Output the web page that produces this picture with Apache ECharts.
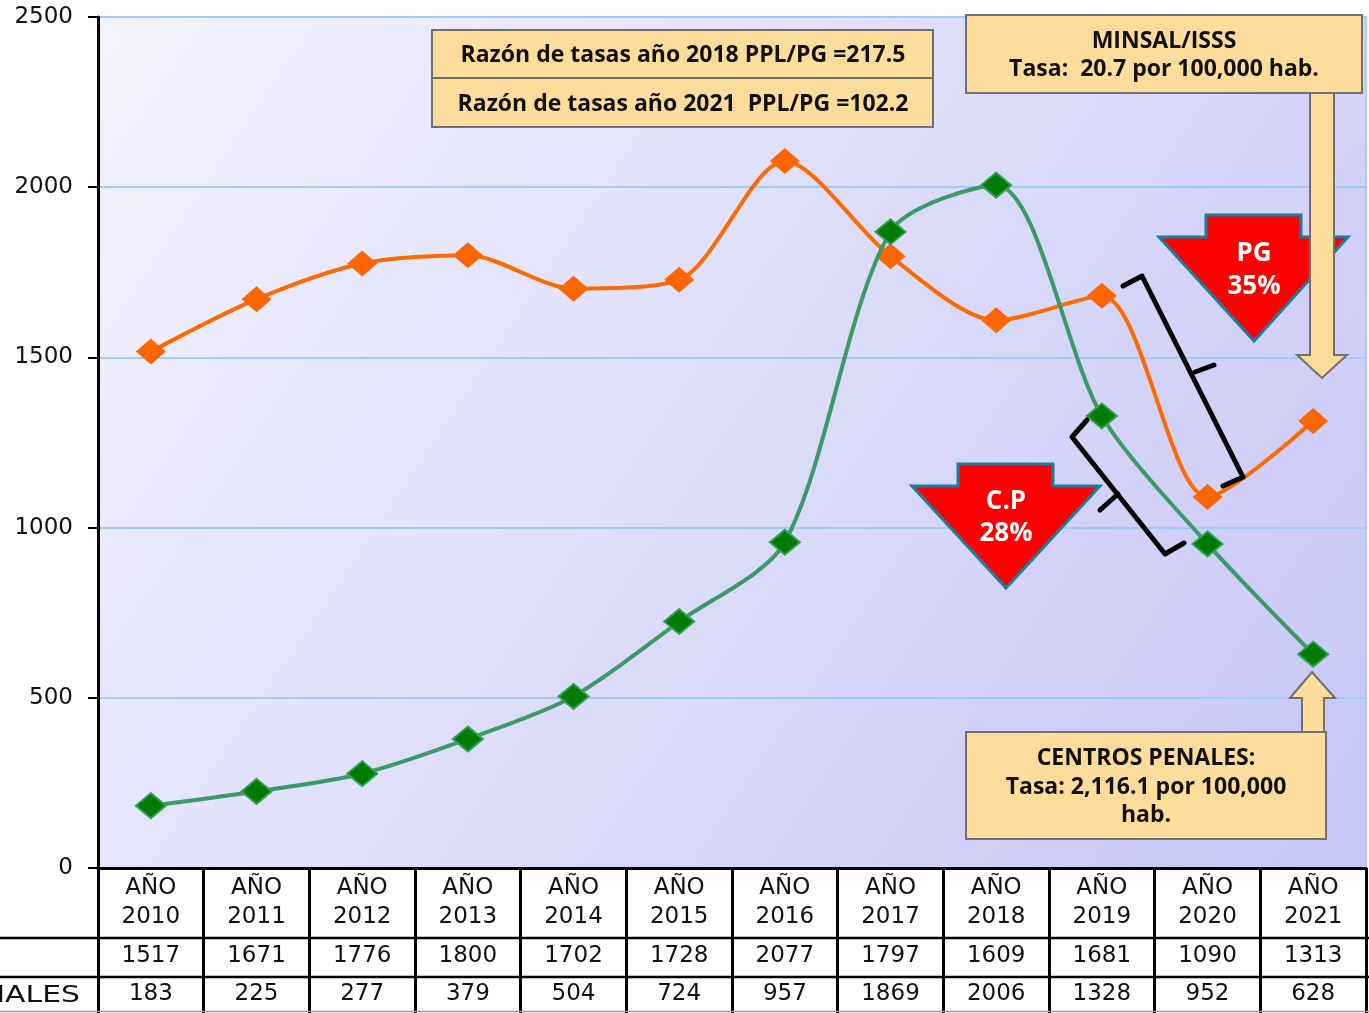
<!DOCTYPE html>
<html><head><meta charset="utf-8">
<script src="https://cdn.jsdelivr.net/npm/echarts@6/dist/echarts.min.js"></script>
<style>html,body{margin:0;padding:0;background:#fff}#c{width:1369px;height:1013px}</style>
</head><body><div id="c"></div>
<script>
// ---- data ----
const years = ['2010','2011','2012','2013','2014','2015','2016','2017','2018','2019','2020','2021'];
const pgValues = [1517,1671,1776,1800,1702,1728,2077,1797,1609,1681,1090,1313];
const cpValues = [183,225,277,379,504,724,957,1869,2006,1328,952,628];
const yMin = 0, yMax = 2500, yInterval = 500;
const rowLabelCP = 'CENTROS PENALES';
const ratioNotes = ['Razón de tasas año 2018 PPL/PG =217.5', 'Razón de tasas año 2021  PPL/PG =102.2'];
const minsalNote = ['MINSAL/ISSS', 'Tasa:  20.7 por 100,000 hab.'];
const penalesNote = ['CENTROS PENALES:', 'Tasa: 2,116.1 por 100,000', 'hab.'];
const pgArrowText = ['PG', '35%'];
const cpArrowText = ['C.P', '28%'];

const chart = echarts.init(document.getElementById('c'), null, {renderer:'canvas'});
const tableFont = 'DejaVu Sans';
const noteFont = 'Open Sans';
const boxFill = '#FEDC9C', boxStroke = '#707070';

function txt(x, y, s, size, color, weight, family, align, sx) {
  return {type:'text', x, y, z:120, scaleX:sx||1, style:{text:s, fontSize:size, fontWeight:weight||'bold',
    fontFamily:family||noteFont, fill:color||'#111', align:align||'center', verticalAlign:'middle'}};
}
function rect(x, y, w, h) {
  return {type:'rect', z:110, shape:{x, y, width:w, height:h}, style:{fill:boxFill, stroke:boxStroke, lineWidth:2}};
}
function downArrow(sl, sr, top, hy, hl, hr, tip, fill, stroke, lw, z) {
  return {type:'polygon', z:z, shape:{points:[[sl,top],[sr,top],[sr,hy],[hr,hy],[tip[0],tip[1]],[hl,hy],[sl,hy]]},
    style:{fill, stroke, lineWidth:lw, lineJoin:'miter'}};
}

const graphics = [
  // table horizontal lines
  {type:'line', z:50, shape:{x1:0,y1:938,x2:1369,y2:938}, style:{stroke:'#000', lineWidth:2.5}},
  {type:'line', z:50, shape:{x1:0,y1:977,x2:1369,y2:977}, style:{stroke:'#000', lineWidth:2.5}},
  {type:'line', z:50, shape:{x1:0,y1:1011.5,x2:1369,y2:1011.5}, style:{stroke:'#999', lineWidth:1.5}},
  txt(80, 996, rowLabelCP, 23, '#111', 'normal', tableFont, 'right', 1.3),

  // ratio boxes
  rect(432, 30, 501, 48), rect(432, 78, 501, 49),
  txt(683, 55, ratioNotes[0], 23), txt(683, 104, ratioNotes[1], 23),

  // MINSAL box + down arrow
  downArrow(1310, 1334, 92, 355, 1297, 1347, [1322, 378], boxFill, boxStroke, 2, 105),
  rect(966, 15, 396, 78),
  txt(1164, 41, minsalNote[0], 23), txt(1164, 69, minsalNote[1], 23),

  // up arrow + CENTROS PENALES box
  {type:'polygon', z:105, shape:{points:[[1302,750],[1302,698],[1290,698],[1312,672],[1335,698],[1324,698],[1324,750]]},
    style:{fill:boxFill, stroke:boxStroke, lineWidth:2}},
  rect(966, 732, 360, 107),
  txt(1146, 758, penalesNote[0], 23), txt(1146, 787, penalesNote[1], 23), txt(1146, 815, penalesNote[2], 23),

  // red arrows
  downArrow(1206, 1301, 215, 237, 1159, 1348, [1254, 341], '#FF0000', '#1B7DA0', 3, 100),
  txt(1254, 254, pgArrowText[0], 26, '#fff'), txt(1254, 287, pgArrowText[1], 26, '#fff'),
  downArrow(958, 1053, 464, 486, 912, 1100, [1006, 588], '#FF0000', '#1B7DA0', 3, 100),
  txt(1006, 502, cpArrowText[0], 26, '#fff'), txt(1006, 534, cpArrowText[1], 26, '#fff'),

  // brackets
  {type:'polyline', z:100, shape:{points:[[1123,286],[1142,276],[1243,477],[1223,486]]},
    style:{stroke:'#000', lineWidth:5, fill:null, lineJoin:'round', lineCap:'round'}},
  {type:'polyline', z:100, shape:{points:[[1195,372],[1214,365]]},
    style:{stroke:'#000', lineWidth:5, fill:null, lineCap:'round'}},
  {type:'polyline', z:100, shape:{points:[[1087,420],[1072,437],[1165,554],[1184,543]]},
    style:{stroke:'#000', lineWidth:5, fill:null, lineJoin:'round', lineCap:'round'}},
  {type:'polyline', z:100, shape:{points:[[1118,494],[1100,510]]},
    style:{stroke:'#000', lineWidth:5, fill:null, lineCap:'round'}}
];

const option = {
  animation: false,
  backgroundColor: '#ffffff',
  grid: {left:98, right:3, top:17, bottom:145, show:true,
    backgroundColor: new echarts.graphic.LinearGradient(0,0,1,1,[{offset:0,color:'#F3F3FD'},{offset:1,color:'#C6C6F7'}]),
    borderColor:'#A5CFF7', borderWidth:2},
  xAxis: [
    {type:'category', data:years, position:'bottom', boundaryGap:true,
      axisLine:{show:true, lineStyle:{color:'#000', width:3}},
      axisTick:{show:true, length:145, interval:0, lineStyle:{color:'#000', width:3}},
      axisLabel:{interval:0, formatter:v => 'AÑO\n' + v, fontFamily:tableFont, fontSize:23, lineHeight:29, color:'#111', margin:6},
      z:10},
    {type:'category', data:pgValues.map(String), position:'bottom', offset:0,
      axisLine:{show:false}, axisTick:{show:false},
      axisLabel:{interval:0, fontFamily:tableFont, fontSize:23, color:'#111', margin:77}},
    {type:'category', data:cpValues.map(String), position:'bottom', offset:0,
      axisLine:{show:false}, axisTick:{show:false},
      axisLabel:{interval:0, fontFamily:tableFont, fontSize:23, color:'#111', margin:115}}
  ],
  yAxis: {type:'value', min:yMin, max:yMax, interval:yInterval,
    axisLine:{show:true, lineStyle:{color:'#000', width:3}},
    axisTick:{show:true, length:10, lineStyle:{color:'#000', width:2}},
    axisLabel:{formatter:v => String(v), fontFamily:tableFont, fontSize:23, color:'#111', margin:25},
    splitLine:{show:true, lineStyle:{color:'#9FCDF8', width:2}}},
  series: [
    {name:'POBLACIÓN GENERAL', type:'line', xAxisIndex:0, data:pgValues, smooth:0.28,
      symbol:'diamond', symbolSize:[30,26],
      lineStyle:{color:'#FF6A00', width:4}, itemStyle:{color:'#FF6600'}, z:5},
    {name:'CENTROS PENALES', type:'line', xAxisIndex:0, data:cpValues, smooth:0.28,
      symbol:'diamond', symbolSize:[30,25],
      lineStyle:{color:'#3A9A68', width:4}, itemStyle:{color:'#007A00', borderColor:'#2FA055', borderWidth:2}, z:6}
  ],
  graphic: graphics
};
chart.setOption(option);
</script></body></html>
